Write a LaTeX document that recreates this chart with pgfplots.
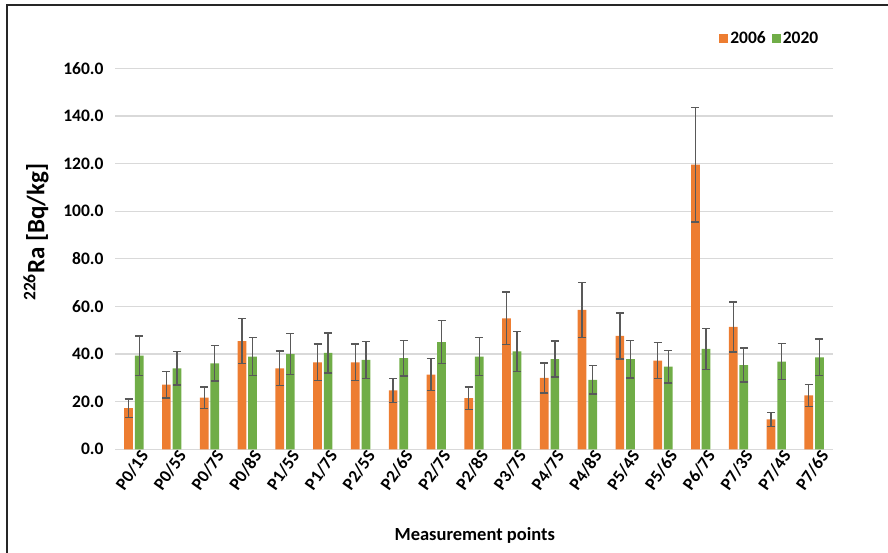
\documentclass[border=0pt]{standalone}
\usepackage{pgfplots}
\pgfplotsset{compat=1.18}
\usepackage{fontspec}
\setmainfont{Carlito}

\definecolor{cOrange}{HTML}{ED7D31}
\definecolor{cGreen}{HTML}{70AD47}
\definecolor{cErr}{HTML}{595959}
\definecolor{cGrid}{HTML}{D9D9D9}

\begin{document}
\begin{tikzpicture}
\useasboundingbox (0,0) rectangle (888pt,553pt);
% frame lines (top and left)
\draw[line width=2pt, black!85] (7pt,0pt) -- (7pt,547.5pt) -- (888pt,547.5pt);

\begin{axis}[
  at={(115pt,103.7pt)}, anchor=south west,
  scale only axis,
  width=718pt, height=381pt,
  ybar=1.9pt, bar width=8.7pt,
  xmin=-0.5, xmax=18.5,
  ymin=0, ymax=160,
  ytick={0,20,...,160},
  xtick={0,...,18},
  xticklabels={P0/1S,P0/5S,P0/7S,P0/8S,P1/5S,P1/7S,P2/5S,P2/6S,P2/7S,P2/8S,P3/7S,P4/7S,P4/8S,P5/4S,P5/6S,P6/7S,P7/3S,P7/4S,P7/6S},
  major tick length=0pt,
  axis line style={draw=none},
  ymajorgrids,
  grid style={cGrid, line width=1.3pt},
  /pgf/number format/assume math mode=true,
  yticklabel style={/pgf/number format/fixed, /pgf/number format/fixed zerofill, /pgf/number format/precision=1, xshift=-8pt},
  tick label style={font=\bfseries\fontsize{17.5}{20}\selectfont, black},
  xticklabel style={xshift=12.5pt, yshift=-0.5pt, rotate=55, anchor=east},
  ylabel={\fontsize{25}{28}\selectfont\bfseries\textsuperscript{226}Ra [Bq/kg]},
  ylabel style={at={(axis description cs:-0.11,0.57)}, anchor=center, rotate=0},
  xlabel={\fontsize{18.5}{21}\selectfont\bfseries Measurement points},
  xlabel style={at={(axis description cs:0.501,-0.225)}, anchor=center},
  legend style={at={(axis description cs:0.912,1.079)}, anchor=center, draw=none, fill=none,
    font=\bfseries\fontsize{17.5}{20}\selectfont, legend columns=2,
    /tikz/every even column/.append style={column sep=4pt}},
  legend image code/.code={\fill[#1] (0pt,-4.5pt) rectangle (9pt,4.5pt);},
  clip=false,
]
% 2006 series
\addplot+[fill=cOrange, draw=none,
  error bars/.cd, y dir=both, y explicit,
  error bar style={cErr, line width=1.3pt},
  error mark options={cErr, mark size=4pt, line width=1.3pt, rotate=90}] coordinates {
  (0,17.3) +- (0,3.8)
  (1,27.2) +- (0,5.6)
  (2,21.7) +- (0,4.5)
  (3,45.4) +- (0,9.4)
  (4,34.0) +- (0,7.3)
  (5,36.5) +- (0,7.7)
  (6,36.5) +- (0,7.7)
  (7,24.7) +- (0,5.1)
  (8,31.4) +- (0,6.6)
  (9,21.5) +- (0,4.7)
  (10,55.0) +- (0,11.1)
  (11,30.0) +- (0,6.3)
  (12,58.5) +- (0,11.6)
  (13,47.6) +- (0,9.7)
  (14,37.2) +- (0,7.6)
  (15,119.5) +- (0,24.0)
  (16,51.4) +- (0,10.5)
  (17,12.6) +- (0,2.9)
  (18,22.6) +- (0,4.6)
};
\addlegendentry{2006}
% 2020 series
\addplot+[fill=cGreen, draw=none,
  error bars/.cd, y dir=both, y explicit,
  error bar style={cErr, line width=1.3pt},
  error mark options={cErr, mark size=4pt, line width=1.3pt, rotate=90}] coordinates {
  (0,39.3) +- (0,8.3)
  (1,34.0) +- (0,7.0)
  (2,36.1) +- (0,7.4)
  (3,38.9) +- (0,8.0)
  (4,40.0) +- (0,8.6)
  (5,40.5) +- (0,8.4)
  (6,37.5) +- (0,7.8)
  (7,38.3) +- (0,7.5)
  (8,45.0) +- (0,9.0)
  (9,38.9) +- (0,8.0)
  (10,41.1) +- (0,8.3)
  (11,37.9) +- (0,7.6)
  (12,29.2) +- (0,6.0)
  (13,37.9) +- (0,7.9)
  (14,34.7) +- (0,6.8)
  (15,42.2) +- (0,8.6)
  (16,35.4) +- (0,7.2)
  (17,36.8) +- (0,7.6)
  (18,38.6) +- (0,7.7)
};
\addlegendentry{2020}
\end{axis}
\end{tikzpicture}
\end{document}
